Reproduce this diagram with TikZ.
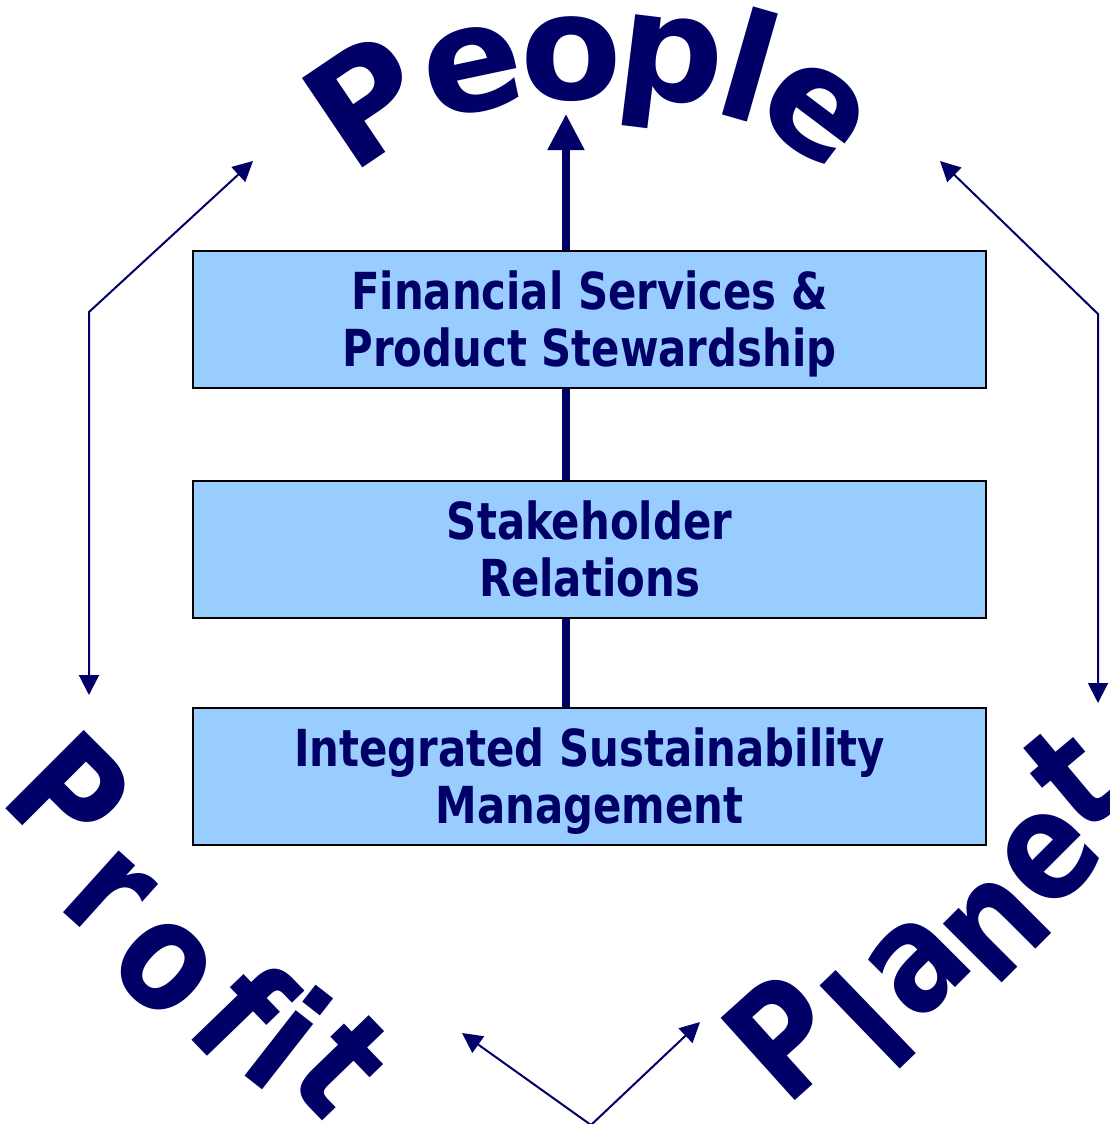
\documentclass[tikz,border=0pt]{standalone}
\usepackage{fontspec}
\setmainfont{DejaVu Sans}
\newfontfamily\boxfont{DejaVu Sans}[FakeStretch=0.82]
\newfontfamily\ringfont{DejaVu Sans}[FakeStretch=0.84]
\usetikzlibrary{arrows.meta}
\definecolor{navy}{HTML}{000066}
\definecolor{boxblue}{HTML}{99CCFF}

\begin{document}
\begin{tikzpicture}[x=1pt,y=-1pt,
  stage/.style={draw=black, line width=2.2pt, fill=boxblue,
    minimum width=793pt, minimum height=137pt, inner sep=0pt,
    align=center, text=navy, text height=94pt, text depth=0pt,
    font=\boxfont\bfseries\fontsize{51}{57}\selectfont},
  topletter/.style={text=navy, inner sep=0pt,
    font=\bfseries\fontsize{148}{148}\selectfont},
  lowletter/.style={text=navy, inner sep=0pt,
    font=\ringfont\bfseries\fontsize{152}{152}\selectfont},
  link/.style={draw=navy, line width=2pt,
    {Triangle[length=20pt,width=20pt]}-{Triangle[length=20pt,width=20pt]}},
  spine/.style={draw=navy, line width=8pt}]

\path[use as bounding box] (0,0) rectangle (1110,1124);

% the three stages
\node[stage] (fs)  at (589.5,319.5) {Financial Services \&\\Product Stewardship};
\node[stage] (sr)  at (589.5,549.5) {Stakeholder\\Relations};
\node[stage] (ism) at (589.5,776.5) {Integrated Sustainability\\Management};

% vertical spine through the stages
\coordinate (axis) at (566,0);
\coordinate (peopletip) at (566,114);
\draw[spine] (ism.north -| axis) -- (sr.south -| axis);
\draw[spine] (sr.north -| axis) -- (fs.south -| axis);
\draw[spine, -{Triangle[length=36pt,width=35pt]}] (fs.north -| axis) -- (peopletip);

% the three words on the ring
\foreach \ch/\x/\y/\r [count=\i] in
  {P/366/100/34, e/473/71/12, o/571/59/0, p/669/74/-7, l/750/64/-16, e/815/112/-37}
  \node[topletter, rotate=\r] (people-\i) at (\x,\y) {\ch};
\foreach \ch/\x/\y/\r [count=\i] in
  {P/70/794/-45, r/107/895/-42, o/164/967/-44, f/243/1010/-46, i/289/1037/-38, t/343/1065/-46}
  \node[lowletter, rotate=\r] (profit-\i) at (\x,\y) {\ch};
\foreach \ch/\x/\y/\r [count=\i] in
  {P/784/1036/42, l/868/1020/44, a/919/966/45, n/997/928/45, e/1050/857/45, t/1072/778/40}
  \node[lowletter, rotate=\r] (planet-\i) at (\x,\y) {\ch};

% two-way links around the ring
\coordinate (pp-a) at (253,161);
\coordinate (pp-b) at (89,312);
\coordinate (pp-c) at (89,695);
\draw[link] (pp-a) -- (pp-b) -- (pp-c);

\coordinate (pl-a) at (940,161);
\coordinate (pl-b) at (1098,314);
\coordinate (pl-c) at (1098,703);
\draw[link] (pl-a) -- (pl-b) -- (pl-c);

\coordinate (fp-a) at (462,1033);
\coordinate (fp-b) at (591,1125);
\coordinate (fp-c) at (700,1022);
\draw[link] (fp-a) -- (fp-b) -- (fp-c);
\end{tikzpicture}
\end{document}
